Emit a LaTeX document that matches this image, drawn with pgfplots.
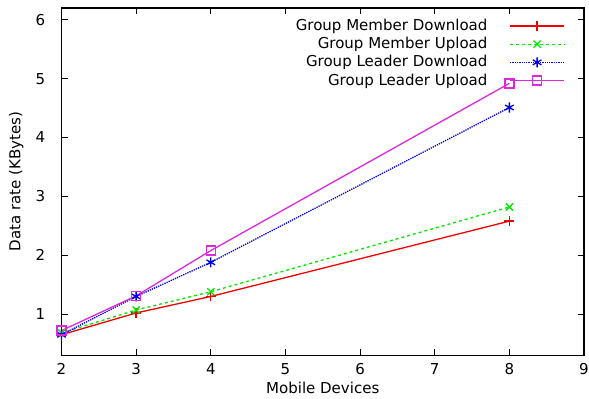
\documentclass[border=0pt]{standalone}
\usepackage{fontspec}
\setmainfont{DejaVu Sans}
\usepackage{pgfplots}
\pgfplotsset{compat=1.18}
\definecolor{gred}{RGB}{240,0,0}
\definecolor{ggreen}{RGB}{0,230,0}
\definecolor{gblue}{RGB}{0,0,230}
\definecolor{gmag}{RGB}{220,40,220}
\begin{document}
\fontsize{15bp}{18bp}\selectfont
\begin{tikzpicture}
\begin{axis}[
  scale only axis,
  width=522bp, height=347bp,
  xmin=2, xmax=9, ymin=0.3, ymax=6.2,
  xtick={2,3,4,5,6,7,8,9},
  ytick={1,2,3,4,5,6},
  tick align=inside,
  major tick length=6bp,
  axis line style={line width=1.5bp},
  tick style={line width=1bp,black},
  /pgf/number format/assume math mode=true,
  xticklabel style={yshift=-3bp},
  yticklabel style={xshift=-11bp},
  xlabel={Mobile Devices},
  ylabel={Data rate (KBytes)},
  xlabel style={yshift=3bp},
  ylabel style={yshift=2bp},
  legend cell align=right,
  legend plot pos=right,
  legend style={draw=none, fill=none, at={(1,1)}, anchor=north east, xshift=-16bp, yshift=-7bp,
    row sep=0.5bp, font=\fontsize{15bp}{18bp}\selectfont,
    /tikz/every odd column/.append style={column sep=20bp}},
  legend image code/.code={
    \draw[mark repeat=2,mark phase=2,#1] plot coordinates {(0bp,0bp)(27bp,0bp)(54bp,0bp)};
  },
  every axis plot/.append style={line width=1.3bp},
]
\addplot[gred, solid, mark=+, mark size=5bp, mark options={solid}] coordinates {(2,0.65)(3,1.02)(4,1.30)(8,2.58)};
\addlegendentry{Group Member Download}
\addplot[ggreen, dashed, mark=x, mark size=5bp, mark options={solid}] coordinates {(2,0.68)(3,1.07)(4,1.38)(8,2.82)};
\addlegendentry{Group Member Upload}
\addplot[gblue, densely dotted, mark=asterisk, mark size=5bp, mark options={solid}] coordinates {(2,0.65)(3,1.30)(4,1.88)(8,4.51)};
\addlegendentry{Group Leader Download}
\addplot[gmag, solid, mark=square, mark size=4.5bp, mark options={solid}] coordinates {(2,0.72)(3,1.31)(4,2.08)(8,4.92)};
\addlegendentry{Group Leader Upload}
\end{axis}
\pgfresetboundingbox
\path[use as bounding box] ([xshift=-4bp]current axis.outer south west) rectangle ([xshift=5bp,yshift=8bp]current axis.north east);
\end{tikzpicture}
\end{document}
